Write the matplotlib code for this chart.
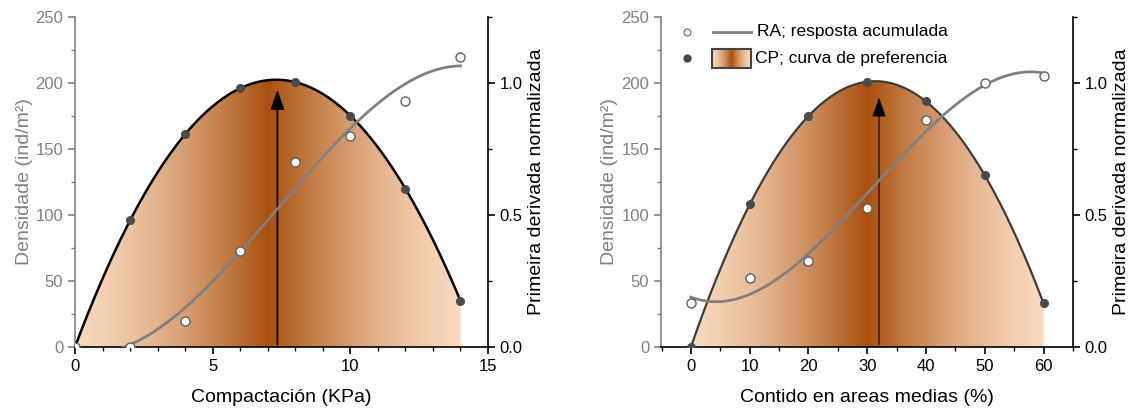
import numpy as np
import matplotlib.pyplot as plt
from matplotlib.ticker import MultipleLocator

plt.rcParams['font.family'] = ['Liberation Sans', 'DejaVu Sans']

# left panel: compaction
comp_x = [0, 2, 4, 6, 8, 10, 12, 14]
comp_dens = [0, 96, 161, 196, 201, 175, 120, 35]
comp_ra = [0, 0, 0.10, 0.365, 0.70, 0.80, 0.93, 1.10]
comp_opt = 7.35
comp_tip = 195

# right panel: medium areas content
med_x = [0, 10, 20, 30, 40, 50, 60]
med_dens = [0, 108, 175, 201, 186, 130, 33]
med_ra = [0.165, 0.263, 0.327, 0.527, 0.861, 1.0, 1.028]
med_opt = 32
med_tip = 189

light = np.array([0.975, 0.845, 0.735])
dark = np.array([0.665, 0.315, 0.055])
grey = '#808080'


def gradient(n=400):
    t = 1 - np.abs(np.linspace(-1, 1, n))
    f = t ** 1.5
    return light[None, None, :] * (1 - f)[None, :, None] + dark[None, None, :] * f[None, :, None]


def panel(rect, x, dens, ra, opt, tip, xlim, xlabel, curve_col, curve_lw, arrow_lw):
    ax = fig.add_axes(rect)
    x = np.asarray(x, float)
    xs = np.linspace(x[0], x[-1], 300)
    dens_fit = np.polyval(np.polyfit(x, dens, 3), xs)
    ra_fit = np.polyval(np.polyfit(x, ra, 3), xs)

    # gradient fill under the preference curve
    poly = ax.fill_between(xs, 0, dens_fit, color='none', lw=0)
    im = ax.imshow(gradient(), extent=(x[0], x[-1], 0, 250), aspect='auto',
                   origin='lower', interpolation='bilinear', zorder=1)
    im.set_clip_path(poly.get_paths()[0], transform=ax.transData)

    ax.plot(xs, dens_fit, color=curve_col, lw=curve_lw, zorder=3)
    ax.plot(x, dens, 'o', color='#4a4a4a', ms=5.5, zorder=4)
    ax.annotate('', xy=(opt, tip), xytext=(opt, 2),
                arrowprops=dict(arrowstyle='-|>,head_length=1.2,head_width=0.42',
                                color='black', lw=arrow_lw, shrinkA=0, shrinkB=0),
                zorder=5)

    ax.set_xlim(*xlim)
    ax.set_ylim(0, 250)
    ax.yaxis.set_major_locator(MultipleLocator(50))
    ax.yaxis.set_minor_locator(MultipleLocator(25))
    ax.spines['top'].set_visible(False)
    ax.spines['right'].set_visible(False)
    ax.spines['left'].set_color(grey)
    for s in ax.spines.values():
        s.set_linewidth(1.2)
    ax.tick_params(axis='y', which='both', colors=grey, labelcolor=grey)
    ax.tick_params(which='major', length=5, width=1.2, labelsize=12)
    ax.tick_params(which='minor', length=3, width=1.0)
    ax.set_ylabel('Densidade (ind/m²)', fontsize=14, color=grey, labelpad=2)
    ax.set_xlabel(xlabel, fontsize=14, labelpad=11)

    ax2 = ax.twinx()
    ax2.plot(xs, ra_fit, color=grey, lw=2, zorder=3)
    ax2.plot(x, ra, 'o', mfc='white', mec='#606060', mew=1.0, ms=6.5, zorder=4)
    ax2.set_ylim(0, 1.25)
    ax2.yaxis.set_major_locator(MultipleLocator(0.5))
    ax2.yaxis.set_minor_locator(MultipleLocator(0.25))
    ax2.yaxis.set_major_formatter(lambda v, p: '%.1f' % v)
    for k in ('top', 'left', 'bottom'):
        ax2.spines[k].set_visible(False)
    ax2.spines['right'].set_linewidth(1.2)
    ax2.tick_params(which='major', length=5, width=1.2, labelsize=12)
    ax2.tick_params(which='minor', length=3, width=1.0)
    ax2.set_ylabel('Primeira derivada normalizada', fontsize=14, labelpad=4)
    return ax, ax2


fig = plt.figure(figsize=(11.31, 4.09), dpi=100)

axL, axL2 = panel([0.0663, 0.1516, 0.3652, 0.8068], comp_x, comp_dens, comp_ra,
                  comp_opt, comp_tip, (0, 15), 'Compactación (KPa)', 'black', 1.8, 1.3)
axL.xaxis.set_major_locator(MultipleLocator(5))
axL.xaxis.set_minor_locator(MultipleLocator(1))

axR, axR2 = panel([0.5844, 0.1516, 0.3643, 0.8068], med_x, med_dens, med_ra,
                  med_opt, med_tip, (-5.1, 65), 'Contido en areas medias (%)', '#3c3c3c', 1.6, 0.8)
axR.xaxis.set_major_locator(MultipleLocator(10))
axR.xaxis.set_minor_locator(MultipleLocator(5))

# legend drawn by hand in the right panel
tr = axR2.transAxes
axR2.plot([0.063], [0.955], 'o', mfc='white', mec='#606060', mew=0.8, ms=5, transform=tr, clip_on=False)
axR2.plot([0.126, 0.218], [0.955, 0.955], color=grey, lw=2, transform=tr)
axR2.text(0.233, 0.955, 'RA; resposta acumulada', transform=tr, fontsize=12.5, va='center')
axR2.plot([0.063], [0.876], 'o', color='#4a4a4a', ms=5, transform=tr, clip_on=False)
sw = axR2.inset_axes([0.124, 0.845, 0.094, 0.058])
sw.imshow(gradient(), aspect='auto', extent=(0, 1, 0, 1))
sw.set_xticks([])
sw.set_yticks([])
for s in sw.spines.values():
    s.set_color('#444444')
    s.set_linewidth(1.5)
axR2.text(0.228, 0.874, 'CP; curva de preferencia', transform=tr, fontsize=12.5, va='center')

fig.savefig('out.png', dpi=100)
